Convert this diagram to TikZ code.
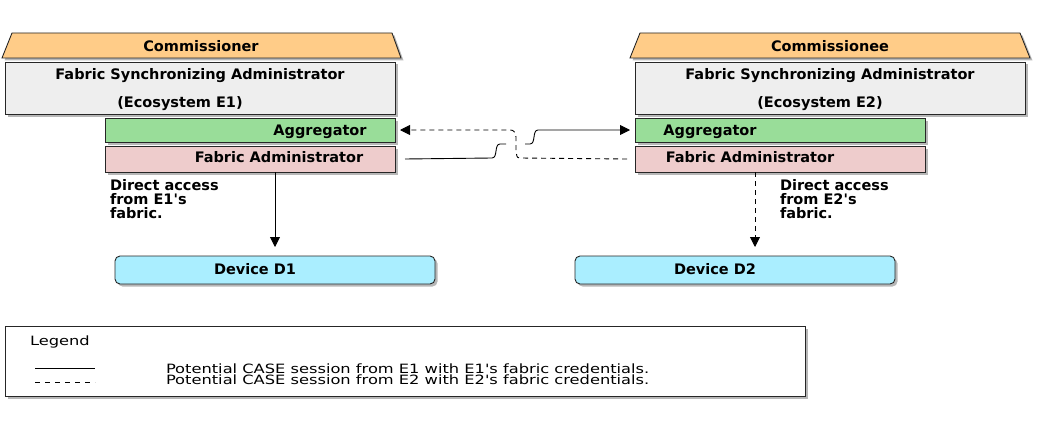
\documentclass[tikz,border=0pt]{standalone}
\usepackage{fontspec}
\setmainfont{DejaVu Sans}
\usetikzlibrary{arrows.meta,shadows}
\definecolor{orangeC}{HTML}{FFCC88}
\definecolor{grayC}{HTML}{EEEEEE}
\definecolor{greenC}{HTML}{99DD99}
\definecolor{pinkC}{HTML}{EECCCC}
\definecolor{cyanC}{HTML}{AAEEFF}
\newcommand{\mainf}{\fontsize{14.5}{17}\selectfont\bfseries}
\newcommand{\notef}{\fontsize{14.5}{13.6}\selectfont\bfseries}
\newcommand{\legf}{\fontsize{12.8}{10.5}\selectfont}
\newcommand{\q}{\textquotesingle}
\tikzset{
  shad/.style={drop shadow={shadow xshift=2.5pt,shadow yshift=-2.5pt,opacity=0.4,fill=black!70}},
  box/.style={draw=black!85,line width=0.9pt,shad,inner sep=0pt,outer sep=0pt,anchor=north west},
  txt/.style={inner sep=0pt,outer sep=0pt,anchor=base,font=\mainf},
  note/.style={inner sep=0pt,outer sep=0pt,anchor=base west,font=\notef,align=left},
  leg/.style={inner sep=0pt,outer sep=0pt,anchor=base west,font=\legf},
  conn/.style={line width=0.9pt,black},
  dsh/.style={dash pattern=on 5pt off 4pt},
  tip/.style={-{Triangle[length=10pt,width=10pt]}}
}
\begin{document}
\begin{tikzpicture}[x=1pt,y=-1pt]
\useasboundingbox (0,0) rectangle (1047,428);

% ---------- left: Commissioner ----------
\draw[fill=orangeC,draw=black!85,line width=0.9pt,shad] (12,33) -- (392,33) -- (401,58) -- (2,58) -- cycle;
\node[txt] (comr) at (201,51.5) {Commissioner};
\node[box,fill=grayC,minimum width=390pt,minimum height=52pt] (fsa1) at (5,62) {};
\node[txt] (fsa1a) at (200,79) {Fabric Synchronizing Administrator};
\node[txt] (fsa1b) at (180,107) {(Ecosystem E1)};
\node[box,fill=greenC,minimum width=290pt,minimum height=24pt] (agg1) at (105,118) {};
\node[txt] (agg1t) at (320,135) {Aggregator};
\node[box,fill=pinkC,minimum width=290pt,minimum height=26pt] (fa1) at (105,146) {};
\node[txt] (fa1t) at (279,162.5) {Fabric Administrator};

% ---------- right: Commissionee ----------
\draw[fill=orangeC,draw=black!85,line width=0.9pt,shad] (640,33) -- (1020,33) -- (1030,58) -- (630,58) -- cycle;
\node[txt] (come) at (830,51.5) {Commissionee};
\node[box,fill=grayC,minimum width=390pt,minimum height=52pt] (fsa2) at (635,62) {};
\node[txt] (fsa2a) at (830,79) {Fabric Synchronizing Administrator};
\node[txt] (fsa2b) at (820,107) {(Ecosystem E2)};
\node[box,fill=greenC,minimum width=290pt,minimum height=24pt] (agg2) at (635,118) {};
\node[txt] (agg2t) at (710,135) {Aggregator};
\node[box,fill=pinkC,minimum width=290pt,minimum height=26pt] (fa2) at (635,146) {};
\node[txt] (fa2t) at (750,162.5) {Fabric Administrator};

% ---------- devices ----------
\node[box,fill=cyanC,rounded corners=5pt,minimum width=320pt,minimum height=28pt] (d1) at (115,256) {};
\node[txt] (d1t) at (255,274) {Device D1};
\node[box,fill=cyanC,rounded corners=5pt,minimum width=320pt,minimum height=28pt] (d2) at (575,256) {};
\node[txt] (d2t) at (715,274) {Device D2};

% ---------- notes ----------
\node[note] (n1) at (110,218) {Direct access\\from E1\q s\\fabric.};
\node[note] (n2) at (780,218) {Direct access\\from E2\q s\\fabric.};

% ---------- connectors ----------
\coordinate (a1) at (275,172);
\coordinate (a1e) at (275,247);
\draw[conn,tip] (a1) -- (a1e);
\coordinate (a2) at (755,172);
\coordinate (a2e) at (755,247);
\draw[conn,dsh,tip] (a2) -- (a2e);

% solid: E1 fabric admin -> E2 aggregator
\coordinate (s0) at ([xshift=10pt]fa1.east);
\coordinate (s1) at ([xshift=-5pt]agg2.west);
\draw[conn] (s0) -- (492,158) .. controls (498,158) and (494,144) .. (500,144) -- (506,144);
\draw[conn,tip] (525,144) -- (530,144) .. controls (536,144) and (532,130) .. (538,130) -- (s1);
% dashed: E2 fabric admin -> E1 aggregator
\coordinate (t0) at ([xshift=-8pt]fa2.west);
\coordinate (t1) at ([xshift=5pt]agg1.east);
\draw[conn,dsh,tip] (t0) -- (520,158) .. controls (516,158) and (517,155) .. (516,151) -- (516,137) .. controls (515,132) and (514,130) .. (510,130) -- (t1);

% ---------- legend ----------
\node[box,fill=white,minimum width=800pt,minimum height=70pt] (lg) at (5,326) {};
\node[leg] (lgt) at (30,345) {\scalebox{1.27}[1]{Legend}};
\coordinate (l1a) at (35,368.5);
\coordinate (l1b) at (95,368.5);
\draw[line width=0.9pt] (l1a) -- (l1b);
\coordinate (l2a) at (35,382);
\coordinate (l2b) at (95,382);
\draw[line width=0.9pt,dash pattern=on 5pt off 5pt] (l2a) -- (l2b);
\node[leg] (lg1) at (166,373) {\scalebox{1.27}[1]{Potential CASE session from E1 with E1\q s fabric credentials.}};
\node[leg] (lg2) at (166,384.5) {\scalebox{1.27}[1]{Potential CASE session from E2 with E2\q s fabric credentials.}};
\end{tikzpicture}
\end{document}
